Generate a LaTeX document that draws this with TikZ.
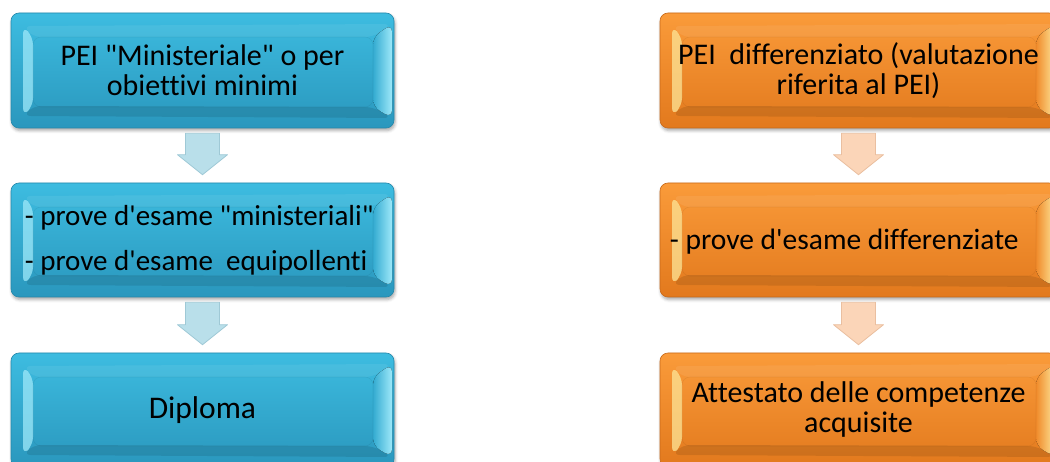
\documentclass[tikz,border=0pt]{standalone}
\usepackage{fontspec}
\setmainfont{Carlito}[Ligatures={TeXOff,NoCommon}]
\usetikzlibrary{calc,shadows.blur}

\definecolor{blueTop}{HTML}{3DBCE0}
\definecolor{blueBot}{HTML}{2A97BD}
\definecolor{blueMid}{HTML}{33ABD1}
\definecolor{blueEdge}{HTML}{2588AB}
\definecolor{blueFacet}{HTML}{9DE8F9}
\definecolor{orTop}{HTML}{FA9B3A}
\definecolor{orBot}{HTML}{E2791D}
\definecolor{orMid}{HTML}{F08A2A}
\definecolor{orEdge}{HTML}{C8691A}
\definecolor{orFacet}{HTML}{FDE597}
\definecolor{blueArrow}{HTML}{B9DFEA}
\definecolor{blueArrowEdge}{HTML}{9FC9D6}
\definecolor{orArrow}{HTML}{FBD5B8}
\definecolor{orArrowEdge}{HTML}{EABFA0}

\tikzset{
  % bevelled frame drawn inside a box: #1 = facet colour, #2 = body colour
  bevel/.style 2 args={path picture={
    \path let \p1=(path picture bounding box.north west),
              \p2=(path picture bounding box.south east) in
      (\x1+12pt,\y1-13pt) coordinate (Onw)
      (\x2-2pt,\y1-11pt)  coordinate (One)
      (\x2-2pt,\y2+10pt)  coordinate (Ose)
      (\x1+12pt,\y2+12pt) coordinate (Osw)
      (\x1+22pt,\y1-24pt) coordinate (Inw)
      (\x2-21pt,\y1-24pt) coordinate (Ine)
      (\x2-21pt,\y2+21pt) coordinate (Ise)
      (\x1+22pt,\y2+22pt) coordinate (Isw);
    \fill[white,opacity=.07] (Onw) -- (One) -- (Ine) -- (Inw) -- cycle;
    \fill[black,opacity=.10] (Osw) -- (Isw) -- (Ise) -- (Ose) -- cycle;
    \fill[#1,opacity=.75] (Onw) -- (Inw) -- (Isw) -- (Osw) -- cycle;
    \fill[left color=#2,right color=#1] (Ine) -- (One) -- (Ose) -- (Ise) -- cycle;
    \draw[black,opacity=.06,line width=.6pt] (Inw) rectangle (Ise);
  }},
  boxtext/.style={font=\fontsize{30}{30}\selectfont, text=black, inner sep=0pt},
  box/.style={boxtext, rounded corners=8pt, line width=.6pt, align=center,
    blur shadow={shadow xshift=1pt, shadow yshift=-2.5pt,
                 shadow blur radius=3pt, shadow opacity=35}},
  bluebox/.style={box, draw=blueEdge, top color=blueTop, bottom color=blueBot,
    bevel={blueFacet}{blueMid}},
  orangebox/.style={box, draw=orEdge, top color=orTop, bottom color=orBot,
    bevel={orFacet}{orMid}},
  bluearrow/.style={fill=blueArrow, draw=blueArrowEdge, line width=.8pt,
    line join=round},
  orangearrow/.style={fill=orArrow, draw=orArrowEdge, line width=.8pt,
    line join=round},
}

% block arrow running from the foot of one box to the head of the next
\newcommand\flowarrow[3]{%
  \draw[#3] let \p1=($(#1.south)+(0,5)$), \p2=($(#2.north)+(0,-8)$) in
    (\x1-17pt,\y1) -- (\x1+17pt,\y1) -- (\x1+17pt,\y2+20pt) --
    (\x1+25pt,\y2+20pt) -- (\x1,\y2) -- (\x1-25pt,\y2+20pt) --
    (\x1-17pt,\y2+20pt) -- cycle;}

\begin{document}
\begin{tikzpicture}[x=1pt,y=-1pt]
\useasboundingbox (0,0) rectangle (1050,462);
\clip (0,0) rectangle (1050,462);

% left column
\node[bluebox, minimum width=383pt, minimum height=115pt] (l1) at (202.5,70.5)
  {PEI "Ministeriale" o per\\obiettivi minimi};
\node[bluebox, minimum width=383pt, minimum height=114pt] (l2) at (202.5,240) {};
\node[boxtext, font=\fontsize{29}{29}\selectfont, anchor=west, align=left]
  (l2t) at ($(l2.west)+(14,0)$)
  {- prove d'esame "ministeriali"\\[16pt]- prove d'esame~~equipollenti};
\node[bluebox, font=\fontsize{31.5}{31.5}\selectfont,
      minimum width=383pt, minimum height=114pt] (l3) at (202.5,410)
  {Diploma};

% right column
\node[orangebox, minimum width=397pt, minimum height=115pt] (r1) at (858.5,70.5)
  {PEI~~differenziato (valutazione\\riferita al PEI)};
\node[orangebox, minimum width=397pt, minimum height=114pt] (r2) at (858.5,240) {};
\node[boxtext, font=\fontsize{29.5}{29.5}\selectfont, anchor=west, align=left]
  (r2t) at ($(r2.west)+(10,2)$)
  {- prove d'esame differenziate};
\node[orangebox, minimum width=397pt, minimum height=114pt] (r3) at (858.5,410)
  {Attestato delle competenze\\acquisite};

\flowarrow{l1}{l2}{bluearrow}
\flowarrow{l2}{l3}{bluearrow}
\flowarrow{r1}{r2}{orangearrow}
\flowarrow{r2}{r3}{orangearrow}
\end{tikzpicture}
\end{document}
